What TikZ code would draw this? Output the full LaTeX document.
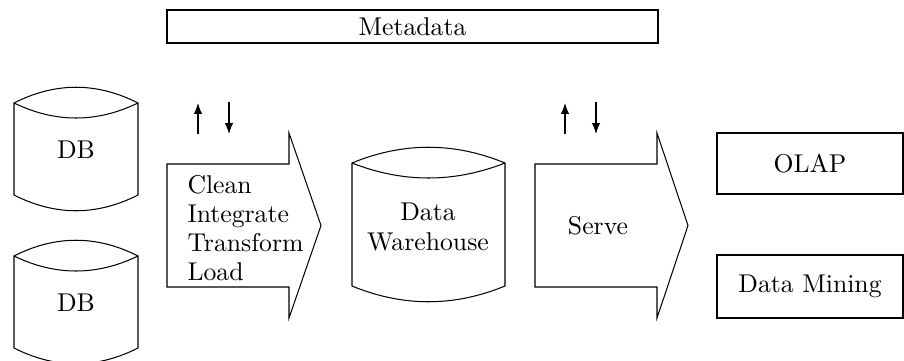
\documentclass[tikz,border=0pt]{standalone}
\usetikzlibrary{arrows.meta}
\def\px{0.389pt}
\newcommand{\mycyl}[4]{%
  \draw[thinline] (#1,#3)
    .. controls ({#1+(#2-#1)/3},{#3-21}) and ({#1+2*(#2-#1)/3},{#3-21}) .. (#2,#3)
    -- (#2,#4)
    .. controls ({#1+2*(#2-#1)/3},{#4+21}) and ({#1+(#2-#1)/3},{#4+21}) .. (#1,#4)
    -- cycle;
  \draw[thinline] (#1,#3)
    .. controls ({#1+(#2-#1)/3},{#3+20}) and ({#1+2*(#2-#1)/3},{#3+20}) .. (#2,#3);
}
\tikzset{
  thinline/.style={line width=0.4pt, black},
  boxnode/.style={draw, thinline, inner sep=0pt, font=\normalsize},
  txt/.style={inner sep=0pt, font=\normalsize},
  smallarrow/.style={thinline, -{Latex[length=4.2pt,width=3.2pt]}},
}
\begin{document}
\begin{tikzpicture}[x=\px, y=-\px]
\clip (0,0) rectangle (904,360);
\useasboundingbox (0,0) rectangle (904,360);

% Metadata
\node[boxnode, minimum width={491*\px}, minimum height={33*\px}] (meta) at (412.5,26.5) {Metadata};

% DB cylinders
\mycyl{14}{138}{103}{195}
\node[txt] (db1) at (76,150) {DB};
\mycyl{14}{138}{256}{348}
\node[txt] (db2) at (76,303) {DB};

% ETL arrow
\draw[thinline] (167,164) -- (289,164) -- (289,133) -- (321,225.5) -- (289,318) -- (289,287) -- (167,287) -- cycle;
\node[txt, anchor=west, align=left, font=\fontsize{10}{11.3}\selectfont] (etl) at (187,228)
  {Clean\\Integrate\\Transform\\Load};

% small arrows ETL
\coordinate (a1s) at (198,134); \coordinate (a1e) at (198,103);
\coordinate (a2s) at (229,102); \coordinate (a2e) at (229,134);
\draw[smallarrow] (a1s) -- (a1e);
\draw[smallarrow] (a2s) -- (a2e);

% Data warehouse
\mycyl{352}{505}{163}{286}
\node[txt, align=center, font=\fontsize{10}{11.6}\selectfont] (dw) at (428,227) {Data\\Warehouse};

% Serve arrow
\draw[thinline] (535,164) -- (657,164) -- (657,133) -- (688,225.5) -- (657,318) -- (657,287) -- (535,287) -- cycle;
\node[txt] (serve) at (598,226) {Serve};

% small arrows Serve
\coordinate (b1s) at (565,134); \coordinate (b1e) at (565,103);
\coordinate (b2s) at (596,102); \coordinate (b2e) at (596,134);
\draw[smallarrow] (b1s) -- (b1e);
\draw[smallarrow] (b2s) -- (b2e);

% OLAP / Data Mining
\node[boxnode, minimum width={186*\px}, minimum height={61*\px}] (olap) at (810,163.5) {OLAP};
\node[boxnode, minimum width={186*\px}, minimum height={63*\px}] (dm) at (810,286.5) {Data Mining};
\end{tikzpicture}
\end{document}
